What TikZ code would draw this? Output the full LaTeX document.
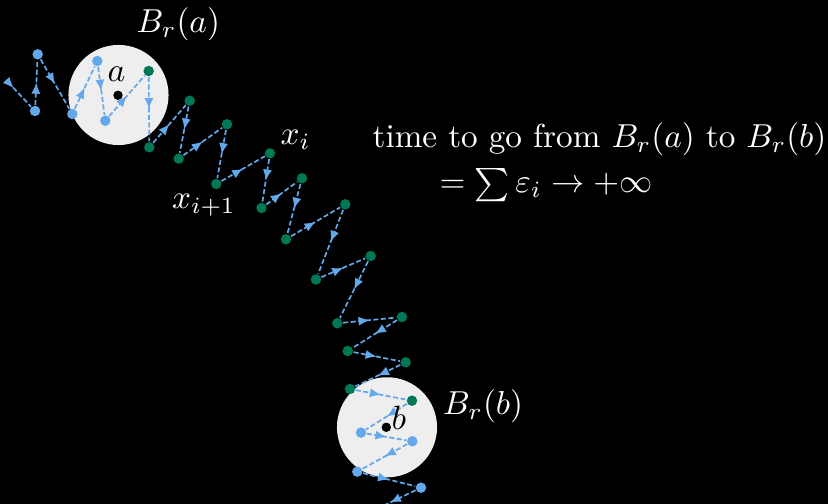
\documentclass[tikz,border=0pt]{standalone}
\usepackage{amsmath,amssymb}
\usepackage{xcolor}
\usepackage{tikz}
\usetikzlibrary{arrows.meta, decorations.markings}

\definecolor{walkblue}{RGB}{98,168,234}
\definecolor{walkgreen}{RGB}{0,120,86}
\definecolor{ballgray}{RGB}{238,238,238}

\begin{document}
\begin{tikzpicture}[
      x=0.2967pt, y=-0.2967pt,
      ball/.style={circle, fill=ballgray, minimum size=29.7pt, inner sep=0pt},
      centre/.style={circle, fill=black, minimum size=2.8pt, inner sep=0pt},
      bdot/.style={circle, fill=walkblue, minimum size=3.1pt, inner sep=0pt},
      gdot/.style={circle, fill=walkgreen, minimum size=3.1pt, inner sep=0pt},
      walk/.style={walkblue, line width=0.5pt, dash pattern=on 1.5pt off 0.75pt,
                   postaction={decorate},
                   decoration={markings, mark=at position #1 with
                     {\arrow{Latex[length=3.3pt,width=2.7pt]}}}},
      walk/.default=0.5,
      lbl/.style={text=white, inner sep=0pt, anchor=base west, scale=0.985}
    ]
    \useasboundingbox (0,0) rectangle (828,504);
    \fill[black] (0,0) rectangle (828,504);
    \clip (0,0) rectangle (828,504);

    % the two balls
    \node[ball] (ballA) at (118.5,95) {};
    \node[ball] (ballB) at (387,427.3) {};
    \node[centre] (a) at (118,95.3) {};
    \node[centre] (b) at (386.3,427.3) {};

    % blue steps inside B_r(a)
    \foreach \x/\y [count=\i] in {35/111, 37.7/54.3, 72.3/114, 97.3/61, 105.3/120.7}
      \node[bdot] (p\i) at (\x,\y) {};
    % green steps in between
    \foreach \x/\y [count=\i from 6] in {148.7/71, 149.3/147.3, 189.7/100.7,
        178.7/158.7, 227/124.3, 216.3/184, 270/153.3, 261.5/208, 302/178.3,
        286/239.3, 345.3/204.3, 316/279.5, 370.7/256, 337.3/323.3, 402/317,
        347.7/351, 405.7/362.3, 350/389, 412/400.7}
      \node[gdot] (p\i) at (\x,\y) {};
    % blue steps inside B_r(b)
    \foreach \x/\y [count=\i from 25] in {361/432.7, 412.3/441.3, 357.3/471.7, 421/487.7}
      \node[bdot] (p\i) at (\x,\y) {};

    \coordinate (start) at (8,82);
    \coordinate (finish) at (364,515);

    \draw[walk=0.25] (start) -- (p1);
    \foreach \j [remember=\j as \i (initially 1)] in {2,...,28}
      \draw[walk] (p\i) -- (p\j);
    \draw[walk] (p28) -- (finish);

    % labels
    \node[inner sep=0pt, anchor=base west] (alab) at (107,82) {$a$};
    \node[inner sep=0pt, anchor=base west] (blab) at (391,430) {$b$};
    \node[lbl] (ballAlab) at (136,33) {$B_r(a)$};
    \node[lbl] (ballBlab) at (442.5,415) {$B_r(b)$};
    \node[lbl] (xi) at (280,145) {$x_i$};
    \node[lbl] (xnext) at (171.5,208.3) {$x_{i+1}$};
    \node[lbl] (time) at (372,148) {time to go from $B_r(a)$ to $B_r(b)$};
    \node[lbl] (total) at (439,193) {$=\sum\varepsilon_i\to+\infty$};
  \end{tikzpicture}
\end{document}
